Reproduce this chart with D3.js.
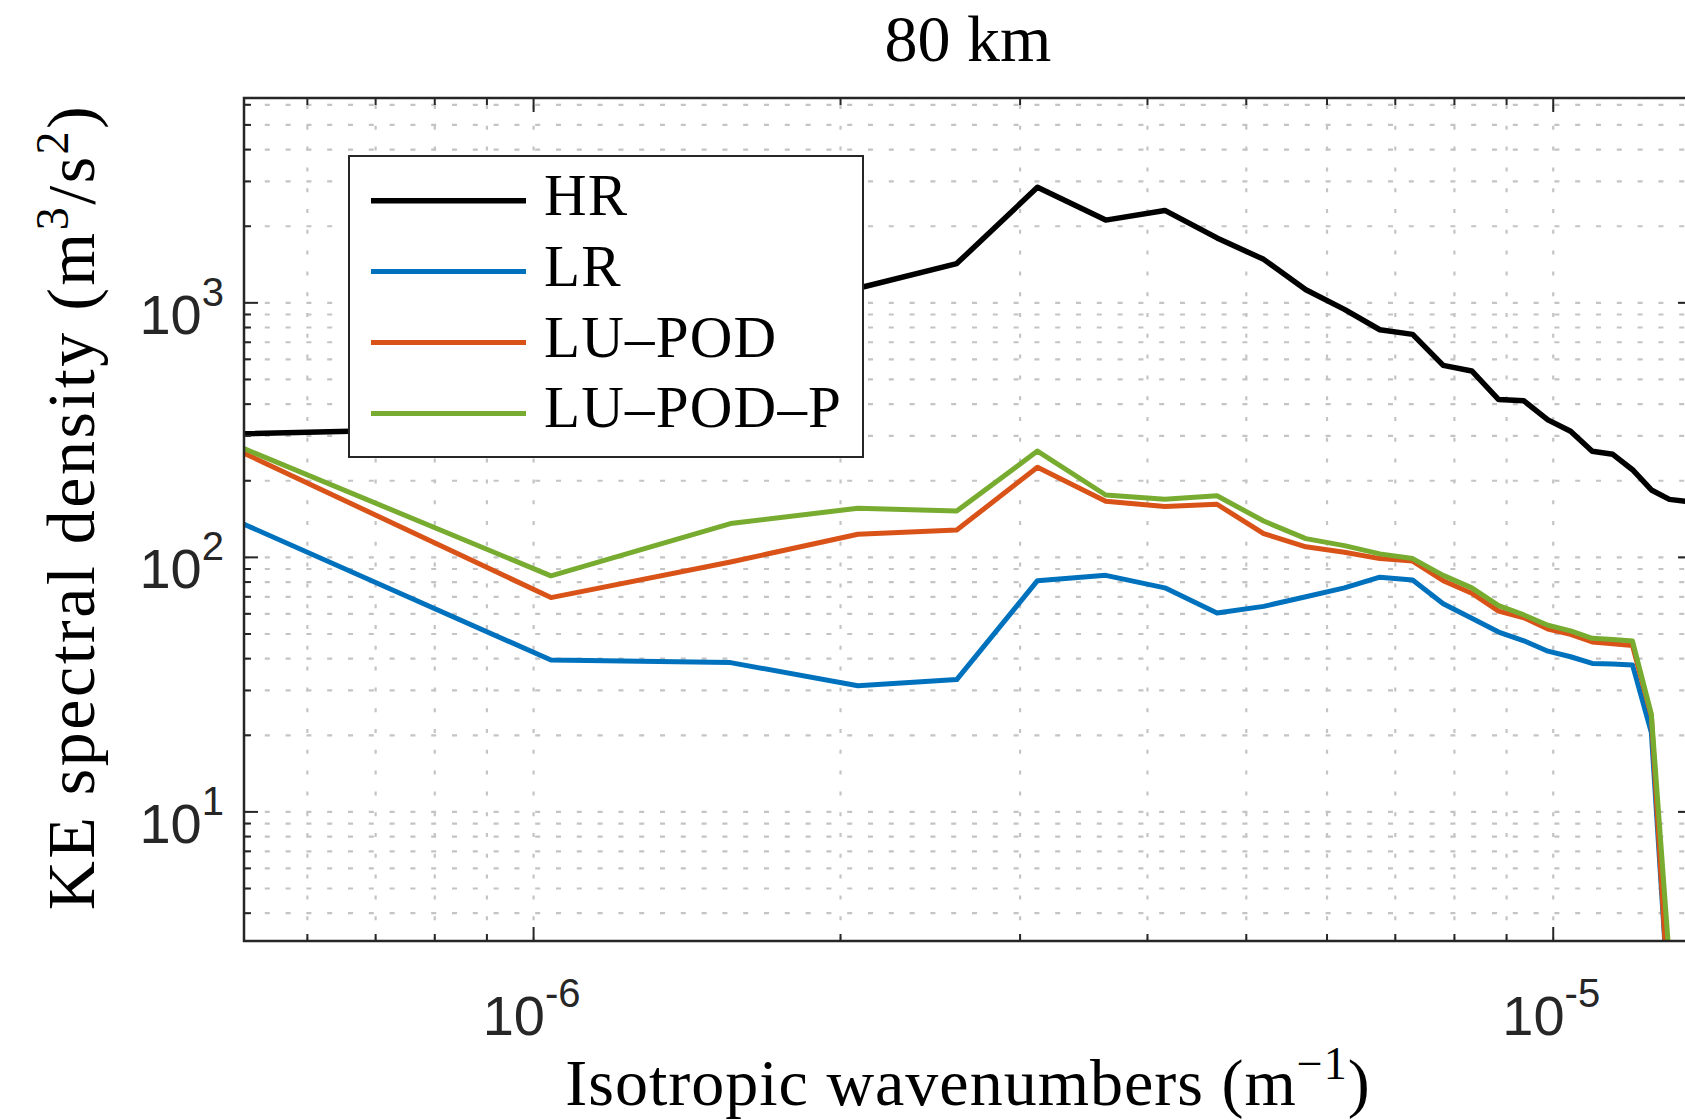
<!DOCTYPE html>
<html>
<head>
<meta charset="utf-8">
<script src="https://cdn.jsdelivr.net/npm/d3@7"></script>
<style>
  body { margin: 0; background: #fff; }
  .tick-label { font-family: "Liberation Sans", Arial, sans-serif; fill: #262626; }
  .latex { font-family: "Liberation Serif", "Times New Roman", serif; fill: #000; }
</style>
</head>
<body>
<div class="wrapper"></div>
<script>
// isotropic wavenumbers (m^-1), one per spectral bin
var wavenumbers = [5.2e-7, 1.04e-6, 1.56e-6, 2.08e-6, 2.6e-6, 3.12e-6, 3.64e-6, 4.16e-6, 4.68e-6, 5.2e-6,
  5.72e-6, 6.24e-6, 6.76e-6, 7.28e-6, 7.8e-6, 8.32e-6, 8.84e-6, 9.36e-6, 9.88e-6, 1.04e-5,
  1.092e-5, 1.144e-5, 1.196e-5, 1.248e-5, 1.3e-5, 1.352e-5];

// KE spectral density (m^3/s^2)
var hrValues = [306, 327, 640, 1141, 1426, 2844, 2114, 2307, 1799, 1482,
  1126, 943, 784, 752, 568, 540, 417, 412, 347, 313,
  261, 254, 221, 184, 169, 166];
var lrValues = [135, 39.5, 38.6, 31.3, 33.1, 81, 85, 75.9, 60.5, 64.2,
  70, 75.9, 83.6, 81.5, 65.7, 57.7, 50.9, 47.0, 42.8, 40.7,
  38.3, 38.1, 37.8, 20.5, 1.6, 0.001];
var luPodValues = [256.6, 69.5, 95.9, 123.2, 128, 226, 166, 158.6, 161.7, 124,
  110, 104.8, 98.9, 96.7, 81, 72.3, 61.5, 57.9, 52.3, 49.8,
  46.5, 45.8, 45.0, 23.8, 1.6, 0.001];
var luPodPValues = [267.5, 84.6, 135.8, 156, 152, 261.6, 175.8, 169, 174.6, 138.9,
  118.5, 111.2, 103.2, 98.9, 85.0, 75.9, 64.6, 59.4, 54.1, 51.4,
  48.1, 47.6, 46.9, 24.2, 2.6, 0.001];

var seriesNames = ["HR", "LR", "LU\u2013POD", "LU\u2013POD\u2013P"];
var seriesColors = ["#000000", "#0072BD", "#D95319", "#77AC30"];

var xMajorTicks = [1e-6, 1e-5];
var xTickExponents = ["-6", "-5"];
var yMajorTicks = [10, 100, 1000];
var yTickExponents = ["1", "2", "3"];

var xLimits = [5.2e-7, 1.368e-5];
var yLimits = [3.11, 6380];

var width = 1685, height = 1120;
var plot = { left: 244, top: 98, right: 1692, bottom: 941 };
var axisColor = "#262626";

var svg, xScale, yScale, line;

/**
 * Builds the svg and the scales.
 */
function initChart() {
  svg = d3.select(".wrapper").append("svg")
    .attr("width", width)
    .attr("height", height);

  xScale = d3.scaleLog().domain(xLimits).range([plot.left, plot.right]);
  yScale = d3.scaleLog().domain(yLimits).range([plot.bottom, plot.top]);

  svg.append("defs").append("clipPath").attr("id", "plot-clip")
    .append("rect")
    .attr("x", plot.left).attr("y", plot.top)
    .attr("width", plot.right - plot.left).attr("height", plot.bottom - plot.top);

  drawGrid();
  drawLines();
  drawAxes();
  drawLegend();
  drawLabels();
}

/**
 * Dashed major + minor grid, like matlab's grid on / grid minor.
 */
function drawGrid() {
  var gridG = svg.append("g").attr("class", "grid")
    .attr("stroke", "#c4c4c4").attr("stroke-width", 2.2);

  gridG.selectAll(".vgrid").data(xScale.ticks())
    .enter().append("line")
    .attr("x1", d => xScale(d)).attr("x2", d => xScale(d))
    .attr("y1", plot.bottom).attr("y2", plot.top)
    .attr("stroke-dasharray", "4 16.8");

  gridG.selectAll(".hgrid").data(yScale.ticks())
    .enter().append("line")
    .attr("y1", d => yScale(d)).attr("y2", d => yScale(d))
    .attr("x1", plot.left).attr("x2", plot.right)
    .attr("stroke-dasharray", "5 15.8");
}

/**
 * One polyline per series, clipped to the axes box.
 */
function drawLines() {
  var allSeries = [hrValues, lrValues, luPodValues, luPodPValues];
  line = d3.line()
    .x((d, i) => xScale(wavenumbers[i]))
    .y(d => yScale(d));

  svg.append("g").attr("clip-path", "url(#plot-clip)")
    .selectAll("path").data(allSeries)
    .enter().append("path")
    .attr("d", line)
    .attr("fill", "none")
    .attr("stroke", (d, i) => seriesColors[i])
    .attr("stroke-width", (d, i) => i === 0 ? 5.5 : 5)
    .attr("stroke-linejoin", "round");
}

/**
 * Box, inward ticks on all four sides and the 10^n tick labels.
 */
function drawAxes() {
  var axisG = svg.append("g").attr("stroke", axisColor).attr("stroke-width", 2);
  var isMajor = d => Math.abs(Math.log10(d) - Math.round(Math.log10(d))) < 1e-6;
  var tickLen = d => isMajor(d) ? 14 : 7;

  axisG.append("rect")
    .attr("x", plot.left).attr("y", plot.top)
    .attr("width", plot.right - plot.left).attr("height", plot.bottom - plot.top)
    .attr("fill", "none").attr("stroke-width", 2.5);

  var xt = xScale.ticks();
  axisG.selectAll(".xtick-b").data(xt).enter().append("line")
    .attr("x1", d => xScale(d)).attr("x2", d => xScale(d))
    .attr("y1", plot.bottom).attr("y2", d => plot.bottom - tickLen(d));
  axisG.selectAll(".xtick-t").data(xt).enter().append("line")
    .attr("x1", d => xScale(d)).attr("x2", d => xScale(d))
    .attr("y1", plot.top).attr("y2", d => plot.top + tickLen(d));

  var yt = yScale.ticks();
  axisG.selectAll(".ytick-l").data(yt).enter().append("line")
    .attr("y1", d => yScale(d)).attr("y2", d => yScale(d))
    .attr("x1", plot.left).attr("x2", d => plot.left + tickLen(d));
  axisG.selectAll(".ytick-r").data(yt).enter().append("line")
    .attr("y1", d => yScale(d)).attr("y2", d => yScale(d))
    .attr("x1", plot.right).attr("x2", d => plot.right - tickLen(d));

  // x tick labels
  xMajorTicks.forEach((v, i) => {
    var t = svg.append("text").attr("class", "tick-label")
      .attr("x", xScale(v) - 2).attr("y", 1035)
      .attr("text-anchor", "middle");
    t.append("tspan").style("font-size", "56px").text("10");
    t.append("tspan").style("font-size", "40px").attr("dy", -28).text(xTickExponents[i]);
  });

  // y tick labels
  yMajorTicks.forEach((v, i) => {
    var t = svg.append("text").attr("class", "tick-label")
      .attr("x", 224).attr("y", yScale(v) + 31)
      .attr("text-anchor", "end");
    t.append("tspan").style("font-size", "56px").text("10");
    t.append("tspan").style("font-size", "40px").attr("dy", -28).text(yTickExponents[i]);
  });
}

/**
 * Legend box in the upper left of the axes.
 */
function drawLegend() {
  var legendG = svg.append("g").attr("class", "legend");
  legendG.append("rect")
    .attr("x", 349).attr("y", 156)
    .attr("width", 514).attr("height", 301)
    .attr("fill", "#fff").attr("stroke", axisColor).attr("stroke-width", 2);

  var entries = legendG.selectAll(".entry").data(seriesNames)
    .enter().append("g")
    .attr("transform", (d, i) => `translate(0, ${200.7 + i * 70.9})`);
  entries.append("line")
    .attr("x1", 371).attr("x2", 526)
    .attr("stroke", (d, i) => seriesColors[i])
    .attr("stroke-width", (d, i) => i === 0 ? 5.5 : 5);
  entries.append("text").attr("class", "latex")
    .attr("x", 544).attr("y", 14)
    .style("font-size", "59px")
    .style("letter-spacing", "1.2px")
    .text(d => d);
}

/**
 * Title and axis labels (latex style).
 */
function drawLabels() {
  svg.append("text").attr("class", "latex")
    .attr("x", (plot.left + plot.right) / 2).attr("y", 61)
    .attr("text-anchor", "middle").style("font-size", "66px")
    .text("80 km");

  var xl = svg.append("text").attr("class", "latex")
    .attr("x", (plot.left + plot.right) / 2).attr("y", 1105)
    .attr("text-anchor", "middle").style("font-size", "66px")
    .style("letter-spacing", "1px");
  xl.append("tspan").text("Isotropic wavenumbers (m");
  xl.append("tspan").attr("dy", -26).style("font-size", "46px").text("\u22121");
  xl.append("tspan").attr("dy", 26).text(")");

  var yl = svg.append("text").attr("class", "latex")
    .attr("transform", "translate(94, 507) rotate(-90)")
    .attr("text-anchor", "middle").style("font-size", "68px")
    .style("letter-spacing", "2.5px");
  yl.append("tspan").text("KE spectral density (m");
  yl.append("tspan").attr("dy", -26).style("font-size", "46px").text("3");
  yl.append("tspan").attr("dy", 26).text("/s");
  yl.append("tspan").attr("dy", -26).style("font-size", "46px").text("2");
  yl.append("tspan").attr("dy", 26).text(")");
}

initChart();
</script>
</body>
</html>
